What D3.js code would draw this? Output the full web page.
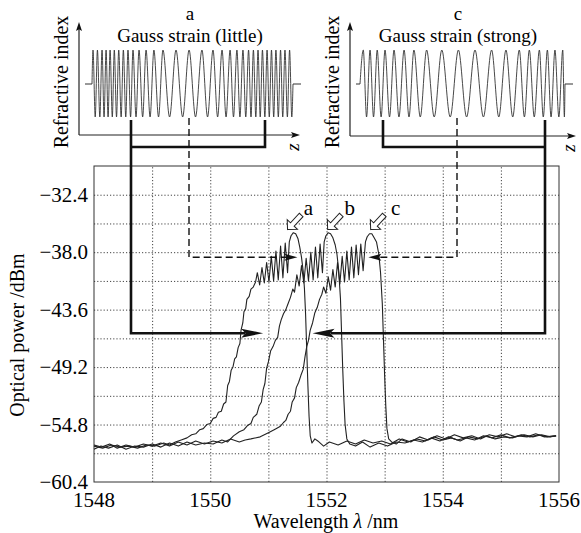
<!DOCTYPE html>
<html>
<head>
<meta charset="utf-8">
<script src="https://cdn.jsdelivr.net/npm/d3@7"></script>
</head>
<body style="margin:0">
<svg id="fig" width="581" height="533"></svg>
<script>
// ---- data: spectra (wavelength nm, power dBm) ----
const curveA = [
  [1548.00,-56.9],[1548.15,-57.1],[1548.30,-56.8],[1548.45,-57.0],[1548.60,-56.9],[1548.75,-57.1],[1548.90,-56.8],
  [1549.05,-56.9],[1549.20,-56.6],[1549.30,-56.8],[1549.40,-56.5],[1549.50,-56.3],[1549.60,-56.1],[1549.68,-55.8],
  [1549.75,-55.7],[1549.82,-55.3],[1549.88,-55.2],[1549.94,-54.8],[1550.00,-54.7],[1550.05,-54.2],[1550.10,-54.1],
  [1550.14,-53.6],[1550.19,-53.5],[1550.23,-52.8],[1550.27,-52.6],[1550.30,-51.0],[1550.33,-50.6],[1550.36,-49.5],
  [1550.39,-49.2],[1550.42,-48.4],[1550.45,-48.2],[1550.48,-47.3],[1550.51,-46.9],[1550.53,-45.6],[1550.56,-44.9],
  [1550.58,-43.8],[1550.61,-43.5],[1550.63,-42.6],[1550.67,-42.3],[1550.70,-41.6],[1550.74,-41.4],[1550.78,-40.9],
  [1550.81,-40.0],[1550.85,-41.2],[1550.89,-39.5],[1550.93,-41.0],[1550.97,-39.0],[1551.01,-40.9],[1551.05,-38.4],
  [1551.09,-40.8],[1551.13,-37.9],[1551.17,-40.7],[1551.21,-37.4],[1551.25,-40.5],[1551.29,-37.1],[1551.33,-40.0],
  [1551.36,-37.0],[1551.39,-36.4],[1551.43,-36.1],[1551.47,-36.2],[1551.51,-36.7],[1551.54,-37.5],[1551.57,-38.5],
  [1551.60,-39.9],[1551.62,-41.5],[1551.64,-44.0],[1551.66,-47.5],[1551.68,-51.0],[1551.70,-54.0],[1551.72,-55.9],
  [1551.75,-56.6],[1551.80,-56.2],[1551.85,-56.4],[1551.95,-56.9],[1552.05,-56.5],[1552.20,-56.8],[1552.35,-56.4],
  [1552.50,-56.7],[1552.65,-56.3],[1552.80,-56.6],[1552.95,-56.4],[1553.10,-56.7],[1553.25,-56.2],[1553.40,-56.5],
  [1553.55,-56.2],[1553.70,-56.4],[1553.85,-56.0],[1554.00,-56.3],[1554.15,-56.1],[1554.30,-56.4],[1554.45,-56.0],
  [1554.60,-56.2],[1554.75,-55.9],[1554.90,-56.2],[1555.05,-56.0],[1555.20,-56.1],[1555.35,-55.8],[1555.50,-56.0],
  [1555.65,-55.8],[1555.80,-56.0],[1555.95,-55.9]
];
const curveB = [
  [1548.00,-57.2],[1548.12,-56.9],[1548.25,-57.1],[1548.40,-56.8],[1548.55,-57.2],[1548.70,-56.9],[1548.85,-57.0],
  [1549.00,-56.7],[1549.15,-57.0],[1549.30,-56.6],[1549.45,-56.9],[1549.60,-56.5],[1549.75,-56.8],[1549.90,-56.6],
  [1550.05,-56.7],[1550.20,-56.3],[1550.30,-56.5],[1550.40,-55.9],[1550.50,-55.5],[1550.58,-55.3],[1550.64,-54.9],
  [1550.70,-54.7],[1550.74,-54.1],[1550.80,-53.8],[1550.84,-53.0],[1550.88,-52.6],[1550.91,-51.4],[1550.94,-50.8],
  [1550.97,-49.3],[1551.00,-48.7],[1551.04,-47.6],[1551.08,-47.2],[1551.12,-46.6],[1551.16,-46.3],[1551.19,-45.2],
  [1551.22,-44.6],[1551.26,-44.0],[1551.30,-43.6],[1551.34,-43.0],[1551.38,-42.4],[1551.42,-41.6],[1551.45,-41.9],
  [1551.49,-40.2],[1551.53,-41.3],[1551.57,-39.3],[1551.61,-41.0],[1551.65,-38.6],[1551.69,-40.8],[1551.73,-38.0],
  [1551.77,-40.7],[1551.81,-37.5],[1551.85,-40.5],[1551.89,-37.2],[1551.93,-40.0],[1551.96,-37.0],[1551.99,-36.4],
  [1552.03,-36.1],[1552.07,-36.2],[1552.11,-36.6],[1552.15,-37.3],[1552.18,-38.2],[1552.21,-39.8],[1552.24,-42.5],
  [1552.26,-46.0],[1552.28,-49.5],[1552.30,-52.5],[1552.32,-54.8],[1552.35,-56.2],[1552.40,-56.7],[1552.50,-56.9],
  [1552.62,-56.5],[1552.75,-57.0],[1552.90,-56.6],[1553.05,-56.9],[1553.20,-56.5],[1553.35,-56.6],[1553.50,-56.3],
  [1553.65,-56.5],[1553.80,-56.1],[1553.95,-56.4],[1554.10,-56.0],[1554.25,-56.3],[1554.40,-56.1],[1554.55,-56.3],
  [1554.70,-55.9],[1554.85,-56.1],[1555.00,-55.8],[1555.15,-56.1],[1555.30,-55.9],[1555.45,-56.0],[1555.60,-55.7],
  [1555.75,-56.0],[1555.95,-55.9]
];
const curveC = [
  [1548.00,-56.8],[1548.13,-57.0],[1548.27,-56.7],[1548.40,-57.1],[1548.55,-56.8],[1548.70,-57.0],[1548.85,-56.7],
  [1549.00,-56.9],[1549.15,-56.6],[1549.30,-56.9],[1549.45,-56.5],[1549.60,-56.8],[1549.75,-56.4],[1549.90,-56.7],
  [1550.05,-56.4],[1550.20,-56.6],[1550.35,-56.2],[1550.50,-56.5],[1550.60,-56.3],[1550.70,-56.2],[1550.86,-56.0],
  [1551.00,-55.6],[1551.10,-55.3],[1551.20,-55.0],[1551.26,-54.6],[1551.30,-54.4],[1551.34,-53.8],[1551.38,-53.5],
  [1551.41,-52.6],[1551.45,-52.2],[1551.48,-51.2],[1551.52,-50.7],[1551.56,-50.0],[1551.60,-49.4],[1551.63,-48.2],
  [1551.66,-47.2],[1551.69,-46.6],[1551.72,-45.6],[1551.76,-44.9],[1551.80,-43.9],[1551.84,-43.4],[1551.88,-42.6],
  [1551.92,-42.1],[1551.95,-41.4],[1551.99,-42.0],[1552.03,-40.4],[1552.07,-41.7],[1552.11,-39.7],[1552.15,-41.4],
  [1552.19,-39.0],[1552.23,-41.1],[1552.27,-38.4],[1552.31,-40.9],[1552.35,-37.9],[1552.39,-40.7],[1552.43,-37.5],
  [1552.47,-40.5],[1552.51,-37.3],[1552.55,-40.2],[1552.59,-37.2],[1552.63,-39.8],[1552.67,-37.0],[1552.70,-36.5],
  [1552.74,-36.2],[1552.78,-36.2],[1552.82,-36.6],[1552.86,-37.0],[1552.90,-38.2],[1552.93,-40.0],[1552.96,-43.0],
  [1552.98,-46.5],[1553.00,-50.0],[1553.02,-53.0],[1553.04,-55.2],[1553.07,-56.2],[1553.12,-56.5],[1553.20,-56.7],
  [1553.30,-56.2],[1553.45,-56.5],[1553.60,-56.0],[1553.75,-56.3],[1553.90,-55.9],[1554.05,-56.2],[1554.20,-55.8],
  [1554.35,-56.1],[1554.50,-55.9],[1554.65,-56.2],[1554.80,-55.8],[1554.95,-56.0],[1555.10,-55.7],[1555.25,-56.0],
  [1555.40,-55.8],[1555.55,-56.0],[1555.70,-55.8],[1555.85,-56.0],[1555.95,-55.9]
];

// axis ticks
const xTicks = [1548, 1550, 1552, 1554, 1556];
const xGrid = [1549, 1550, 1551, 1552, 1553, 1554, 1555];
const yTicks = [-60.4, -54.8, -49.2, -43.6, -38.0, -32.4];
const yGrid = [-57.6, -54.8, -52.0, -49.2, -46.4, -43.6, -40.8, -38.0, -35.2, -32.4];

// peak labels and pointer tips (wavelength, dBm)
const peakNames = ["a", "b", "c"];
const peakLabelX = [1551.69, 1552.40, 1553.19];
const peakLabelY = [-33.7, -33.7, -33.7];
const pointerX = [1551.33, 1552.02, 1552.76];
const pointerY = [-35.8, -35.8, -35.8];

// inset grating sketches: crest / trough positions along z (0..100)
const crestsA = [0.5,2.7,5.0,7.0,9.0,11.1,13.3,15.6,17.9,20.4,23.4,26.9,30.8,35.3,41.8,48.3,54.7,60.2,64.7,68.7,72.1,75.1,77.9,80.3,82.6,84.8,87.1,89.3,91.5,93.8,96.0,98.3];
const troughsA = [1.6,3.9,6.0,8.0,10.1,12.2,14.5,16.8,19.2,21.9,25.2,28.9,33.1,38.6,45.1,51.5,57.5,62.5,66.7,70.4,73.6,76.5,79.1,81.5,83.7,86.0,88.2,90.4,92.7,94.9,97.2,99.4];
const crestsC = [1.6,4.9,8.4,12.2,16.6,21.5,26.3,32.5,39.9,48.0,56.1,64.2,71.2,77.7,82.6,87.5,91.4,95.1,98.9];
const troughsC = [3.2,6.6,10.3,14.4,19.0,23.9,29.4,36.2,44.0,52.0,60.2,67.7,74.5,80.2,85.0,89.4,93.2,97.0,99.7];

// ---- layout ----
const plotL = 94, plotR = 559, plotT = 166, plotB = 482;
const svg = d3.select("#fig");

const x = d3.scaleLinear().domain([1548, 1556]).range([plotL, plotR]);
const y = d3.scaleLinear().domain([-60.4, -29.6]).range([plotB, plotT]);

// text helper: serif label
function label(g, size) {
  return g.append("text")
    .attr("font-family", "C059, Liberation Serif, serif")
    .style("font-family", "'C059'")
    .style("font-size", size + "px");
}

// arrowhead helper (filled triangle with tip at tx,ty)
function arrowHead(g, tx, ty, angle, len, half) {
  g.append("path")
    .attr("d", `M0,0 L${-len},${-half} L${-len * 0.8},0 L${-len},${half} Z`)
    .attr("transform", `translate(${tx},${ty}) rotate(${angle})`)
    .attr("fill", "#111");
}

// ---- grid ----
svg.append("g")
  .attr("transform", `translate(0,${plotB})`)
  .call(d3.axisBottom(x).tickValues(xGrid).tickSize(-(plotB - plotT)).tickFormat(""))
  .call(g => g.select(".domain").remove())
  .selectAll("line").attr("stroke", "#444").attr("stroke-dasharray", "1.2,2");

svg.append("g")
  .attr("transform", `translate(${plotL},0)`)
  .call(d3.axisLeft(y).tickValues(yGrid).tickSize(-(plotR - plotL)).tickFormat(""))
  .call(g => g.select(".domain").remove())
  .selectAll("line").attr("stroke", "#444").attr("stroke-dasharray", "1.2,2");

svg.append("rect")
  .attr("x", plotL).attr("y", plotT)
  .attr("width", plotR - plotL).attr("height", plotB - plotT)
  .attr("fill", "none").attr("stroke", "#333").attr("stroke-width", 1);

// ---- tick labels ----
xTicks.forEach(v => {
  label(svg, 21).attr("x", x(v)).attr("y", plotB + 25).attr("text-anchor", "middle").text(d3.format("d")(v));
});
yTicks.forEach(v => {
  label(svg, 21).attr("x", plotL - 6).attr("y", y(v) + 7).attr("text-anchor", "end").text(d3.format(".1f")(v));
});

// axis titles
label(svg, 20)
  .attr("transform", "translate(24,335) rotate(-90)")
  .attr("text-anchor", "middle")
  .text("Optical power /dBm");

const xt = label(svg, 20)
  .attr("x", 326).attr("y", 528)
  .attr("text-anchor", "middle");
xt.append("tspan").text("Wavelength ");
xt.append("tspan").attr("font-style", "italic").text("λ");
xt.append("tspan").text(" /nm");

// ---- spectra ----
const line = d3.line().x(d => x(d[0])).y(d => y(d[1]));
[curveA, curveB, curveC].forEach(c => {
  svg.append("path")
    .datum(c)
    .attr("d", line)
    .attr("fill", "none")
    .attr("stroke", "#222")
    .attr("stroke-width", 1.1)
    .attr("stroke-linejoin", "round");
});

// peak labels and hollow pointer arrows
peakNames.forEach((name, i) => {
  label(svg, 21)
    .attr("x", x(peakLabelX[i])).attr("y", y(peakLabelY[i]) + 7)
    .attr("text-anchor", "middle")
    .text(name);
  svg.append("path")
    .attr("d", "M0,0 L-7,-7 L-7,-2.5 L-20,-2.5 L-20,2.5 L-7,2.5 L-7,7 Z")
    .attr("transform", `translate(${x(pointerX[i])},${y(pointerY[i])}) rotate(133)`)
    .attr("fill", "#fff").attr("stroke", "#222").attr("stroke-width", 1);
});

// ---- insets ----
function drawInset(ox, oy, x0, x1, axEnd, crests, troughs, title, tag, labelX) {
  const g = svg.append("g");
  const z = d3.scaleLinear().domain([0, 100]).range([x0, x1]);
  const crestY = 50, troughY = 117, midY = 84;
  // axes
  g.append("line").attr("x1", ox).attr("y1", oy).attr("x2", ox).attr("y2", 27)
    .attr("stroke", "#222").attr("stroke-width", 1.2);
  arrowHead(g, ox, 22, -90, 9, 3);
  g.append("line").attr("x1", ox).attr("y1", oy).attr("x2", axEnd - 4).attr("y2", oy)
    .attr("stroke", "#222").attr("stroke-width", 1.2);
  arrowHead(g, axEnd, oy, 0, 9, 3);
  label(g, 19)
    .attr("transform", `translate(${axEnd - 1},${oy + 12}) rotate(-90)`)
    .attr("text-anchor", "middle")
    .attr("font-style", "italic")
    .text("z");
  label(g, 20)
    .attr("transform", `translate(${ox - 11},82) rotate(-90)`)
    .attr("text-anchor", "middle")
    .text("Refractive index");
  // grating profile
  const pts = [[0, midY]]
    .concat(crests.map(c => [c, crestY]))
    .concat(troughs.map(t => [t, troughY]))
    .sort((a, b) => a[0] - b[0]);
  pts.push([100, midY]);
  g.append("path")
    .datum(pts)
    .attr("d", d3.line().x(d => z(d[0])).y(d => d[1]).curve(d3.curveMonotoneX))
    .attr("fill", "none").attr("stroke", "#333").attr("stroke-width", 0.9);
  g.append("line").attr("x1", ox + 6).attr("x2", x0).attr("y1", midY).attr("y2", midY)
    .attr("stroke", "#333").attr("stroke-width", 1);
  g.append("line").attr("x1", x1).attr("x2", x1 + 8).attr("y1", midY).attr("y2", midY)
    .attr("stroke", "#333").attr("stroke-width", 1);
  // titles
  label(g, 19).attr("x", labelX).attr("y", 20).attr("text-anchor", "middle").text(tag);
  label(g, 19).attr("x", labelX).attr("y", 42).attr("text-anchor", "middle").text(title);
}

drawInset(79, 135, 92, 293, 300, crestsA, troughsA, "Gauss strain (little)", "a", 190);
drawInset(350, 136, 360, 565, 576, crestsC, troughsC, "Gauss strain (strong)", "c", 458);

// ---- connector brackets (thick) ----
const bracket = svg.append("g").attr("fill", "none").attr("stroke", "#111")
  .attr("stroke-width", 2.6).attr("stroke-linejoin", "miter");
// inset a to spectrum a
bracket.append("path").attr("d", `M265,120 V147 H131`);
bracket.append("path").attr("d", `M131,120 V${y(-45.9)} H${x(1550.91) - 18}`);
arrowHead(svg, x(1550.91), y(-45.9), 0, 22, 4.5);
// inset c to spectrum c
bracket.append("path").attr("d", `M383,120 V147 H545`);
bracket.append("path").attr("d", `M545,120 V${y(-45.9)} H${x(1551.76) + 18}`);
arrowHead(svg, x(1551.76), y(-45.9), 180, 22, 4.5);

// ---- dashed centre connectors ----
const dashed = svg.append("g").attr("fill", "none").attr("stroke", "#111")
  .attr("stroke-width", 1.4).attr("stroke-dasharray", "7,4");
dashed.append("path").attr("d", `M189,118 V${y(-38.5)} H${x(1551.5) - 10}`);
arrowHead(svg, x(1551.5), y(-38.5), 0, 13, 3.5);
dashed.append("path").attr("d", `M457,118 V${y(-38.5)} H${x(1552.72) + 10}`);
arrowHead(svg, x(1552.72), y(-38.5), 180, 13, 3.5);
</script>
</body>
</html>
